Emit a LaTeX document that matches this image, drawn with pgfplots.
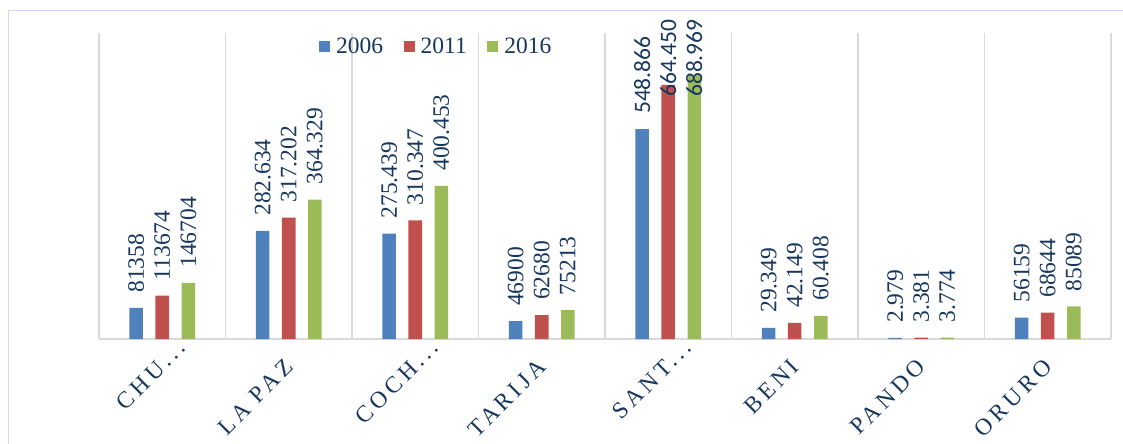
\documentclass[border=0pt]{standalone}
\usepackage{fontspec}
\setmainfont{Liberation Serif}
\newfontfamily\catfont[LetterSpace=17]{Liberation Serif}
\newfontfamily\sansfont{Carlito}
\usepackage{pgfplots}
\pgfplotsset{compat=1.18}
\definecolor{cblue}{HTML}{4F81BD}
\definecolor{cred}{HTML}{C0504D}
\definecolor{cgreen}{HTML}{9BBB59}
\definecolor{navy}{HTML}{17375E}
\definecolor{gridc}{HTML}{D9D9D9}
\definecolor{framec}{HTML}{D4D4FF}
\newcommand{\fs}{\fontsize{23.5bp}{28bp}\selectfont}
\begin{document}
\begin{tikzpicture}
\path[use as bounding box] (0,0) rectangle (1123bp,444bp);
\draw[framec, line width=1.5bp] (8.3bp,0) -- (8.3bp,433.5bp) -- (1123bp,433.5bp);
\begin{axis}[
  at={(99bp,105bp)}, anchor=south west,
  scale only axis, width=1012bp, height=306bp,
  xmin=-0.5, xmax=7.5, ymin=0, ymax=800000,
  clip=false,
  axis x line*=bottom, axis y line=none,
  x axis line style={gridc, line width=1.3bp},
  xtick={0,1,2,3,4,5,6,7},
  xticklabels={CHU.{}.{}., LA PAZ\hspace*{27bp}, COCH.{}.{}., TARIJA\hspace*{27bp}, SANT.{}.{}., BENI\hspace*{27bp}, PANDO\hspace*{27bp}, ORURO\hspace*{27bp}},
  xticklabel style={font=\catfont\fs, text=navy, inner sep=0pt, xshift=19.5bp, yshift=-4.9bp, rotate=45, anchor=east},
  ytick=\empty,
  minor xtick={-0.5,0.5,1.5,2.5,3.5,4.5,5.5,6.5,7.5},
  xminorgrids=true,
  minor grid style={gridc, line width=1.3bp},
  major tick length=0pt, minor tick length=0pt,
  every node near coord/.append style={rotate=90, anchor=west, inner xsep=15bp, inner ysep=0pt, font=\rmfamily\fs, text=navy},
  legend style={at={(0.2174,0.9575)}, anchor=west, draw=none, fill=none, inner sep=0pt,
    font=\rmfamily\fs, text=navy, nodes={inner sep=0pt},
    /tikz/every odd column/.append style={column sep=6bp},
    /tikz/every even column/.append style={column sep=20.5bp}},
  legend columns=3,
  legend image code/.code={\fill[#1, draw=none] (0bp,-5.5bp) rectangle (11bp,5.5bp);},
]
% bars
\addplot[ybar, bar width=0.107, bar shift=-0.206, fill=cblue, draw=none] coordinates {
  (0,81358) (1,282634) (2,275439) (3,46900) (4,548866) (5,29349) (6,2979) (7,56159)};
\addlegendentry{2006}
\addplot[ybar, bar width=0.107, bar shift=0, fill=cred, draw=none] coordinates {
  (0,113674) (1,317202) (2,310347) (3,62680) (4,664450) (5,42149) (6,3381) (7,68644)};
\addlegendentry{2011}
\addplot[ybar, bar width=0.107, bar shift=0.206, fill=cgreen, draw=none] coordinates {
  (0,146704) (1,364329) (2,400453) (3,75213) (4,688969) (5,60408) (6,3774) (7,85089)};
\addlegendentry{2016}
% value labels at the bar tops
\addplot[draw=none, mark=none, forget plot, nodes near coords, point meta=explicit symbolic] coordinates {
  (-0.206,81358)[81358] (0.794,282634)[282.634] (1.794,275439)[275.439] (2.794,46900)[46900]
  (3.794,548866)[{\sansfont 548.866}] (4.794,29349)[29.349] (5.794,2979)[2.979] (6.794,56159)[56159]};
\addplot[draw=none, mark=none, forget plot, nodes near coords, point meta=explicit symbolic] coordinates {
  (0,113674)[113674] (1,317202)[317.202] (2,310347)[310.347] (3,62680)[62680]
  (5,42149)[42.149] (6,3381)[3.381] (7,68644)[68644]};
\addplot[draw=none, mark=none, forget plot, nodes near coords, point meta=explicit symbolic] coordinates {
  (0.206,146704)[146704] (1.206,364329)[364.329] (2.206,400453)[400.453] (3.206,75213)[75213]
  (5.206,60408)[60.408] (6.206,3774)[3.774] (7.206,85089)[85089]};
% Santa Cruz labels pushed down inside the chart
\addplot[draw=none, mark=none, forget plot, nodes near coords, point meta=explicit symbolic,
  every node near coord/.append style={inner xsep=0pt}] coordinates {
  (4,632680)[{\sansfont 664.450}] (4.206,632680)[{\sansfont 688.969}]};
\end{axis}
\end{tikzpicture}
\end{document}
